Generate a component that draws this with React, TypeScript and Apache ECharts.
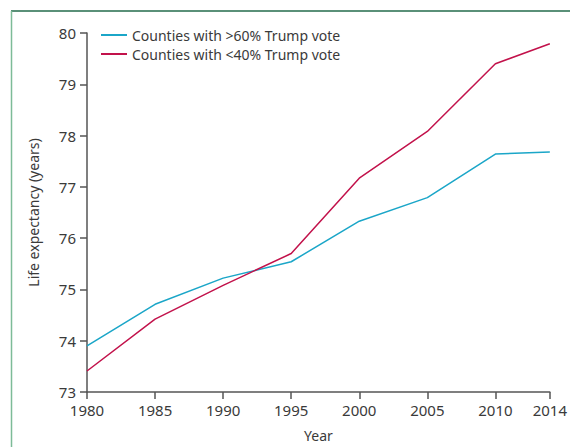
import React, { useEffect, useRef } from "react";
import * as echarts from "echarts";

// Life expectancy by county Trump vote share, 1980–2014
const years = [1980, 1985, 1990, 1995, 2000, 2005, 2010, 2014];
const highTrump = [73.9, 74.71, 75.22, 75.54, 76.33, 76.79, 77.64, 77.68];
const lowTrump = [73.41, 74.42, 75.08, 75.7, 77.17, 78.08, 79.4, 79.79];
const seriesNames = ["Counties with >60% Trump vote", "Counties with <40% Trump vote"];
const seriesColors = ["#1ba6c8", "#c2124b"];

const FONT = "'Noto Sans', 'Open Sans', sans-serif";
const INK = "#3a3a3a";

export default function App() {
  const ref = useRef<HTMLDivElement>(null);

  useEffect(() => {
    document.body.style.margin = "0";
    const chart = echarts.init(ref.current!, null, { renderer: "svg" });
    chart.setOption({
      animation: false,
      backgroundColor: "#ffffff",
      textStyle: { fontFamily: FONT },
      grid: { left: 87, right: 20, top: 33, bottom: 55 },
      legend: {
        orient: "vertical",
        left: 96,
        top: 23,
        itemWidth: 26,
        itemHeight: 2,
        itemGap: 5,
        icon: "rect",
        textStyle: { fontSize: 14, color: INK, fontFamily: FONT },
        data: seriesNames,
      },
      graphic: [
        {
          type: "line",
          shape: { x1: 11, y1: 11, x2: 570, y2: 11 },
          style: { stroke: "#236b4b", lineWidth: 1.5 },
        },
        {
          type: "line",
          shape: { x1: 11.5, y1: 11, x2: 11.5, y2: 447 },
          style: { stroke: "#7dbb98", lineWidth: 1.5 },
        },
      ],
      xAxis: {
        type: "value",
        min: 1980,
        max: 2014,
        interval: 5,
        name: "Year",
        nameLocation: "middle",
        nameGap: 36,
        nameTextStyle: { fontSize: 14, color: INK, fontFamily: FONT },
        splitLine: { show: false },
        axisLine: { show: true, lineStyle: { color: "#555", width: 1.5 } },
        axisTick: { show: true, length: 7, lineStyle: { color: "#555", width: 1.5 } },
        axisLabel: {
          fontSize: 15,
          color: INK,
          margin: 10,
          showMaxLabel: true,
          showMinLabel: true,
          formatter: (v: number) => String(v),
        },
      },
      yAxis: {
        type: "value",
        min: 73,
        max: 80,
        interval: 1,
        name: "Life expectancy (years)",
        nameLocation: "middle",
        nameGap: 47,
        nameTextStyle: { fontSize: 14, color: INK, fontFamily: FONT },
        splitLine: { show: false },
        axisLine: { show: true, lineStyle: { color: "#555", width: 1.5 } },
        axisTick: { show: true, length: 7, lineStyle: { color: "#555", width: 1.5 } },
        axisLabel: { fontSize: 15, color: INK, margin: 11 },
      },
      series: [
        {
          name: seriesNames[0],
          type: "line",
          data: years.map((y, i) => [y, highTrump[i]]),
          showSymbol: false,
          lineStyle: { color: seriesColors[0], width: 1.5 },
          itemStyle: { color: seriesColors[0] },
        },
        {
          name: seriesNames[1],
          type: "line",
          data: years.map((y, i) => [y, lowTrump[i]]),
          showSymbol: false,
          lineStyle: { color: seriesColors[1], width: 1.5 },
          itemStyle: { color: seriesColors[1] },
        },
      ],
    });
    return () => chart.dispose();
  }, []);

  return (
    <div
      ref={ref}
      style={{ position: "absolute", left: 0, top: 0, width: 570, height: 447 }}
    />
  );
}
